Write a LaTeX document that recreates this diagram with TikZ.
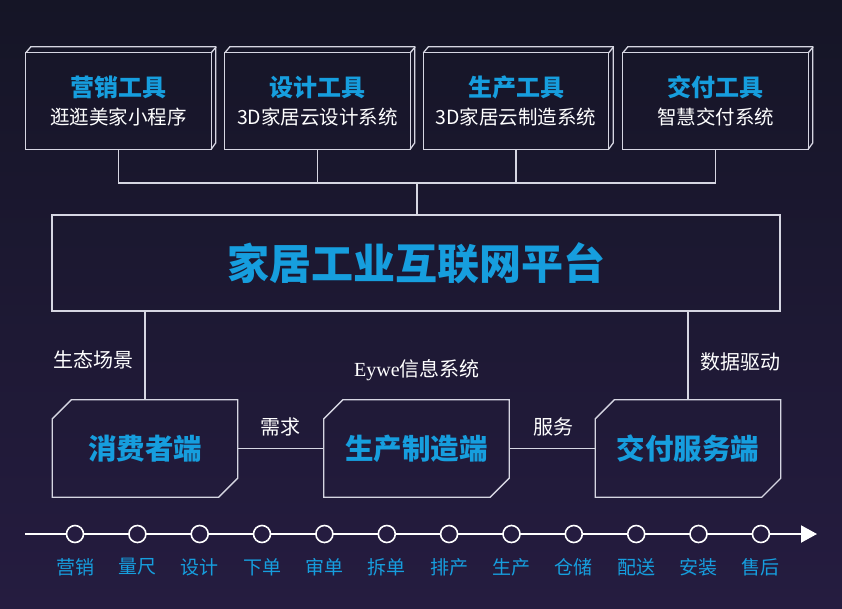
\documentclass[tikz,border=0pt]{standalone}
\usepackage{fontspec}
\setmainfont{Liberation Serif}
\newfontfamily\cjk{Noto Sans CJK SC}
\usetikzlibrary{arrows.meta}
\definecolor{bgtop}{RGB}{21,21,38}
\definecolor{bgbot}{RGB}{37,28,64}
\definecolor{hiblue}{RGB}{22,158,222}
\definecolor{wire}{RGB}{214,214,226}
\begin{document}
\begin{tikzpicture}[x=1pt,y=-1pt]
	\tikzset{edge/.style={draw=wire,line width=1.3pt},
	         toolbox/.style={minimum width=185pt,minimum height=96pt,inner sep=0pt},
	         endbox/.style={minimum width=185pt,minimum height=97pt,inner sep=0pt},
	         tooltitle/.style={font=\cjk\bfseries\fontsize{24}{28}\selectfont,text=hiblue,inner sep=0pt},
	         toolsub/.style={font=\cjk\fontsize{19.5}{23}\selectfont,text=white,inner sep=0pt},
	         endtitle/.style={font=\cjk\bfseries\fontsize{28.5}{33}\selectfont,text=hiblue,inner sep=0pt},
	         tag/.style={font=\cjk\fontsize{20}{24}\selectfont,text=white,inner sep=0pt},
	         stage/.style={circle,draw=white,line width=1.6pt,fill=bgbot,minimum size=17pt,inner sep=0pt},
	         stagelbl/.style={font=\cjk\fontsize{19}{22}\selectfont,text=hiblue,inner sep=0pt}}
	\fill[top color=bgtop,bottom color=bgbot] (0,0) rectangle (842,608);
	% tools
	\node[toolbox] (t1) at (118.5,101) {};
	\node[toolbox] (t2) at (317.5,101) {};
	\node[toolbox] (t3) at (516,101) {};
	\node[toolbox] (t4) at (715.5,101) {};
	\draw[edge] (t1.south west) rectangle (t1.north east);
	\draw[edge] (t1.north west)--++(5,-6)--++(185,0)--++(0,96)--(t1.south east); \draw[edge] (t1.north east)--++(5,-6);
	\draw[edge] (t2.south west) rectangle (t2.north east);
	\draw[edge] (t2.north west)--++(5,-6)--++(185,0)--++(0,96)--(t2.south east); \draw[edge] (t2.north east)--++(5,-6);
	\draw[edge] (t3.south west) rectangle (t3.north east);
	\draw[edge] (t3.north west)--++(5,-6)--++(185,0)--++(0,96)--(t3.south east); \draw[edge] (t3.north east)--++(5,-6);
	\draw[edge] (t4.south west) rectangle (t4.north east);
	\draw[edge] (t4.north west)--++(5,-6)--++(185,0)--++(0,96)--(t4.south east); \draw[edge] (t4.north east)--++(5,-6);
	\node[tooltitle] (t1a) at ([yshift=14pt]t1.center) {营销工具};
	\node[toolsub] (t1b) at ([yshift=-16pt]t1.center) {逛逛美家小程序};
	\node[tooltitle] (t2a) at ([yshift=14pt]t2.center) {设计工具};
	\node[toolsub] (t2b) at ([yshift=-16pt]t2.center) {3D家居云设计系统};
	\node[tooltitle] (t3a) at ([yshift=14pt]t3.center) {生产工具};
	\node[toolsub] (t3b) at ([yshift=-16pt]t3.center) {3D家居云制造系统};
	\node[tooltitle] (t4a) at ([yshift=14pt]t4.center) {交付工具};
	\node[toolsub] (t4b) at ([yshift=-16pt]t4.center) {智慧交付系统};
	% platform
	\node[edge,minimum width=728pt,minimum height=96pt,inner sep=0pt,
	      font=\cjk\bfseries\fontsize{42}{48}\selectfont,text=hiblue] (plat) at (416,263) {家居工业互联网平台};
	\coordinate (j1) at (118.5,183);
	\coordinate (j4) at (715.5,183);
	\coordinate (jm) at (417,183);
	\draw[edge] (t1.south)--(j1)--(j4)--(t4.south);
	\draw[edge] (t2.south)--(t2.south |- j1);
	\draw[edge] (t3.south)--(t3.south |- j1);
	\draw[edge] (jm)--(jm |- plat.north);
	% ends
	\node[endbox] (c1) at (145,448.5) {};
	\node[endbox] (c2) at (416.5,448.5) {};
	\node[endbox] (c3) at (688,448.5) {};
	\draw[edge] ([yshift=-19pt]c1.north west)--([xshift=19pt]c1.north west)--(c1.north east)
	            --([yshift=19pt]c1.south east)--([xshift=-19pt]c1.south east)--(c1.south west)--cycle;
	\draw[edge] ([yshift=-19pt]c2.north west)--([xshift=19pt]c2.north west)--(c2.north east)
	            --([yshift=19pt]c2.south east)--([xshift=-19pt]c2.south east)--(c2.south west)--cycle;
	\draw[edge] ([yshift=-19pt]c3.north west)--([xshift=19pt]c3.north west)--(c3.north east)
	            --([yshift=19pt]c3.south east)--([xshift=-19pt]c3.south east)--(c3.south west)--cycle;
	\node[endtitle] (c1a) at (c1.center) {消费者端};
	\node[endtitle] (c2a) at (c2.center) {生产制造端};
	\node[endtitle] (c3a) at (c3.center) {交付服务端};
	\draw[edge] (c1.north)--(c1.north |- plat.south);
	\draw[edge] (c3.north)--(c3.north |- plat.south);
	\draw[edge] (c1.east)--(c2.west);
	\draw[edge] (c2.east)--(c3.west);
	\node[tag] (l1) at (93,360) {生态场景};
	\node[tag] (l2) at (740,362) {数据驱动};
	\node[tag] (l3) at (417,370) {{\rmfamily Eywe}信息系统};
	\node[tag] (l4) at (280,427) {需求};
	\node[tag] (l5) at (553,427) {服务};
	% flow
	\coordinate (fs) at (25,534);
	\coordinate (fe) at (817,534);
	\draw[draw=white,line width=2pt,-{Triangle[length=16pt,width=17pt]}] (fs)--(fe);
	\node[stage] (s1) at (75,534) {};   \node[stage] (s2) at (137.4,534) {};
	\node[stage] (s3) at (199.7,534) {}; \node[stage] (s4) at (262,534) {};
	\node[stage] (s5) at (324.4,534) {}; \node[stage] (s6) at (386.8,534) {};
	\node[stage] (s7) at (449.1,534) {}; \node[stage] (s8) at (511.5,534) {};
	\node[stage] (s9) at (573.8,534) {}; \node[stage] (s10) at (636.2,534) {};
	\node[stage] (s11) at (698.5,534) {}; \node[stage] (s12) at (760.9,534) {};
	\node[stagelbl] at ([yshift=-33pt]s1) {营销};
	\node[stagelbl] at ([yshift=-33pt]s2) {量尺};
	\node[stagelbl] at ([yshift=-33pt]s3) {设计};
	\node[stagelbl] at ([yshift=-33pt]s4) {下单};
	\node[stagelbl] at ([yshift=-33pt]s5) {审单};
	\node[stagelbl] at ([yshift=-33pt]s6) {拆单};
	\node[stagelbl] at ([yshift=-33pt]s7) {排产};
	\node[stagelbl] at ([yshift=-33pt]s8) {生产};
	\node[stagelbl] at ([yshift=-33pt]s9) {仓储};
	\node[stagelbl] at ([yshift=-33pt]s10) {配送};
	\node[stagelbl] at ([yshift=-33pt]s11) {安装};
	\node[stagelbl] at ([yshift=-33pt]s12) {售后};
\end{tikzpicture}
\end{document}
